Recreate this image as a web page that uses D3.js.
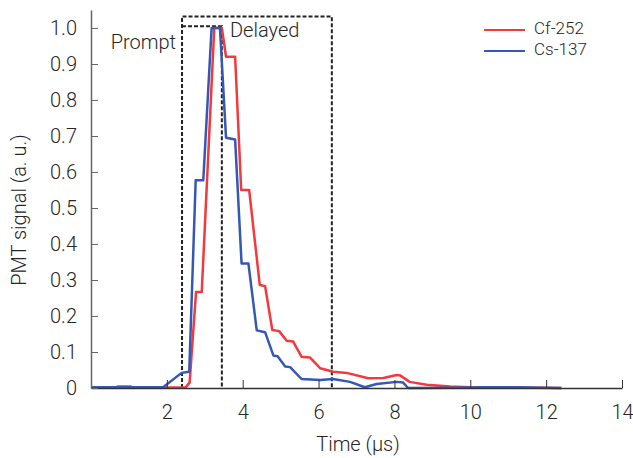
<!DOCTYPE html>
<html>
<head>
<meta charset="utf-8">
<script src="https://cdn.jsdelivr.net/npm/d3@7"></script>
<style>
  body { margin: 0; background: #fff; }
  svg text { font-family: Roboto, "Liberation Sans", Arial, sans-serif; font-weight: 300; fill: #262626; }
</style>
</head>
<body>
<div id="chart"></div>
<script>
// Cf-252 trace (time in us, normalised PMT signal)
const cfTime = [0, 0.65, 0.7, 1.05, 1.1, 2.5, 2.56, 2.6, 2.77, 2.92, 3.25, 3.45, 3.56, 3.8, 3.96, 4.17, 4.45, 4.59, 4.78, 4.96, 5.16, 5.33, 5.55, 5.77, 6.04, 6.39, 6.74, 7.31, 7.71, 8.06, 8.15, 8.4, 8.85, 9.47, 10.0, 12.4];
const cfSignal = [0.001, 0.001, 0.004, 0.004, 0.001, 0.002, 0.01, 0.015, 0.267, 0.267, 1.0, 1.0, 0.92, 0.92, 0.55, 0.55, 0.286, 0.283, 0.161, 0.158, 0.131, 0.129, 0.087, 0.085, 0.055, 0.045, 0.042, 0.027, 0.028, 0.036, 0.035, 0.017, 0.009, 0.004, 0.002, 0.0];

// Cs-137 trace
const csTime = [0, 1.9, 2.39, 2.59, 2.76, 2.96, 3.18, 3.4, 3.56, 3.8, 3.97, 4.15, 4.37, 4.59, 4.81, 4.92, 5.12, 5.25, 5.55, 6.05, 6.38, 6.83, 7.22, 7.53, 8.06, 8.23, 8.36, 9.5, 10.3, 11.2, 12.4];
const csSignal = [0.002, 0.002, 0.042, 0.045, 0.577, 0.577, 1.0, 1.0, 0.695, 0.69, 0.346, 0.346, 0.16, 0.155, 0.09, 0.088, 0.06, 0.058, 0.025, 0.022, 0.025, 0.017, 0.002, 0.011, 0.017, 0.015, 0.0, 0.001, 0.002, 0.002, 0.0];

// integration windows
const promptWindow = [2.4, 3.45];
const delayedWindow = [3.45, 6.35];
const promptTop = 1.005;
const delayedTop = 1.032;

const xTicks = [2, 4, 6, 8, 10, 12, 14];
const yTicks = [0, 0.1, 0.2, 0.3, 0.4, 0.5, 0.6, 0.7, 0.8, 0.9, 1.0];

const seriesNames = ['Cf-252', 'Cs-137'];
const seriesColors = ['#f23a3e', '#3458b4'];

const width = 633;
const height = 458;
const fontSize = 20;

const svg = d3.select('#chart')
    .append('svg')
    .attr('width', width)
    .attr('height', height);

const xScale = d3.scaleLinear().domain([0, 14]).range([91, 622]);
const yScale = d3.scaleLinear().domain([0, 1.05]).range([388, 10]);

// dashed windows
const boxes = svg.append('g')
    .attr('fill', 'none')
    .attr('stroke', '#222')
    .attr('stroke-width', 2)
    .attr('stroke-dasharray', '4,2');

boxes.append('path')
    .attr('d', `M${xScale(promptWindow[0])},${yScale(0)}V${yScale(delayedTop)}H${xScale(delayedWindow[1])}V${yScale(0)}`);
boxes.append('path')
    .attr('d', `M${xScale(promptWindow[0])},${yScale(promptTop)}H${xScale(promptWindow[1])}V${yScale(0)}`);

// traces
const line = d3.line()
    .x((d) => xScale(d[0]))
    .y((d) => yScale(d[1]));

const cfData = d3.zip(cfTime, cfSignal);
const csData = d3.zip(csTime, csSignal);

svg.append('path')
    .datum(cfData)
    .attr('fill', 'none')
    .attr('stroke', seriesColors[0])
    .attr('stroke-width', 2.5)
    .attr('stroke-linejoin', 'round')
    .attr('d', line);

svg.append('path')
    .datum(csData)
    .attr('fill', 'none')
    .attr('stroke', seriesColors[1])
    .attr('stroke-width', 2.5)
    .attr('stroke-linejoin', 'round')
    .attr('d', line);

// axes
const xAxis = svg.append('g')
    .attr('transform', `translate(0, ${yScale(0)})`)
    .call(d3.axisBottom(xScale).tickValues(xTicks).tickSizeInner(-8).tickSizeOuter(0).tickFormat(d3.format('d')));
xAxis.select('.domain').attr('stroke', '#333').attr('stroke-width', 1.5);
xAxis.selectAll('.tick line').attr('stroke', '#333');
xAxis.selectAll('.tick text').attr('y', 17).attr('font-size', fontSize);

const yAxis = svg.append('g')
    .attr('transform', `translate(${xScale(0)}, 0)`)
    .call(d3.axisLeft(yScale).tickValues(yTicks).tickSizeInner(-7).tickSizeOuter(0)
        .tickFormat((d) => d === 0 ? '0' : d3.format('.1f')(d)));
yAxis.select('.domain').attr('stroke', '#666').attr('stroke-width', 1.5);
yAxis.selectAll('.tick line').attr('stroke', '#666');
yAxis.selectAll('.tick text').attr('x', -14).attr('font-size', fontSize);
svg.selectAll('g').attr('font-family', null).attr('font-size', null);

// axis titles
svg.append('text')
    .attr('x', 358)
    .attr('y', 446)
    .attr('text-anchor', 'middle')
    .attr('dominant-baseline', 'middle')
    .attr('font-size', fontSize)
    .text('Time (μs)');

svg.append('text')
    .attr('transform', 'translate(21, 210) rotate(-90)')
    .attr('text-anchor', 'middle')
    .attr('dominant-baseline', 'middle')
    .attr('font-size', fontSize)
    .text('PMT signal (a. u.)');

// window labels
svg.append('text')
    .attr('x', 176)
    .attr('y', 44)
    .attr('text-anchor', 'end')
    .attr('dominant-baseline', 'middle')
    .attr('font-size', fontSize)
    .text('Prompt');

svg.append('text')
    .attr('x', 230)
    .attr('y', 32)
    .attr('dominant-baseline', 'middle')
    .attr('font-size', fontSize)
    .text('Delayed');

// legend
const legend = svg.append('g')
    .selectAll('g')
    .data(seriesNames)
    .join('g')
    .attr('transform', (d, i) => `translate(484, ${30 + i * 21})`);

legend.append('line')
    .attr('x1', 0)
    .attr('x2', 41)
    .attr('stroke', (d, i) => seriesColors[i])
    .attr('stroke-width', 2);

legend.append('text')
    .attr('x', 50)
    .attr('dominant-baseline', 'middle')
    .attr('font-size', 17)
    .text((d) => d);
</script>
</body>
</html>
